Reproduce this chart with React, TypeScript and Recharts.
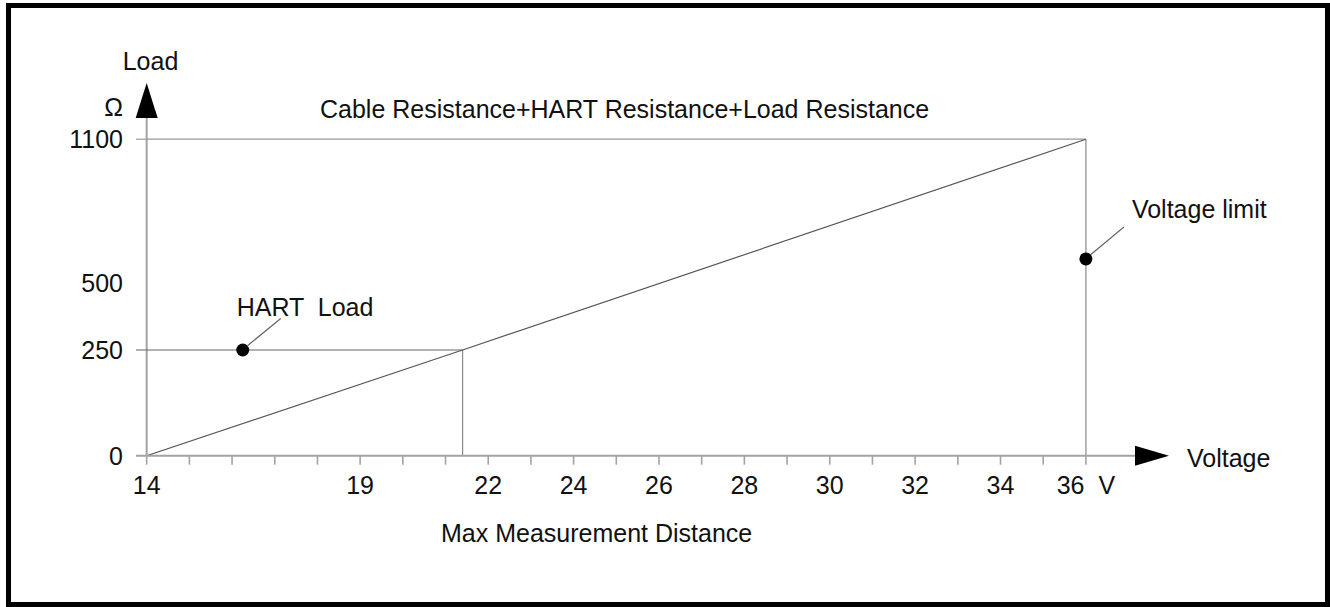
import React from 'react';
import { ComposedChart, Line, XAxis, YAxis, ReferenceLine, ReferenceDot, Customized } from 'recharts';

// ---- data ----
const VOLTAGE_TICKS = [14, 15, 16, 17, 18, 19, 20, 21, 22, 23, 24, 25, 26, 27, 28, 29, 30, 31, 32, 33, 34, 35, 36];
const VOLTAGE_LABELS = [14, 19, 22, 24, 26, 28, 30, 32, 34, 36];
const VOLTAGE_UNIT = 'V';
const LOAD_TICKS = [0, 250, 500, 1100];
const LOAD_LINE = [
  { v: 14, load: 0 },
  { v: 21.4, load: 250 },
  { v: 36, load: 1100 },
];
const HART_LOAD_LINE = [
  { v: 14, load: 250 },
  { v: 21.4, load: 250 },
];
const DISTANCE_LINE = [
  { v: 21.4, load: 0 },
  { v: 21.4, load: 250 },
];
const MAX_LOAD_LINE = [
  { v: 14, load: 1100 },
  { v: 36, load: 1100 },
];
const VOLTAGE_LIMIT_LINE = [
  { v: 36, load: 0 },
  { v: 36, load: 1100 },
];
const ANNOTATIONS = [
  { v: 16.25, load: 250, label: 'HART  Load' },
  { v: 36, load: 600, label: 'Voltage limit' },
];
const TITLE_TOP = 'Cable Resistance+HART Resistance+Load Resistance';
const TITLE_BOTTOM = 'Max Measurement Distance';
const Y_NAME = 'Load';
const Y_UNIT = 'Ω';
const X_NAME = 'Voltage';

// ---- schematic (non-uniform) load scale: ohm -> fraction of axis ----
const LOAD_SCALE: [number, number][] = [
  [0, 0],
  [250, 0.334],
  [500, 0.546],
  [1100, 1],
];
const toFrac = (ohm: number) => {
  for (let i = 1; i < LOAD_SCALE.length; i++) {
    const [o0, f0] = LOAD_SCALE[i - 1];
    const [o1, f1] = LOAD_SCALE[i];
    if (ohm <= o1 || i === LOAD_SCALE.length - 1) {
      return f0 + ((ohm - o0) / (o1 - o0)) * (f1 - f0);
    }
  }
  return 0;
};
const fracToLabel = (f: number) => {
  const t = LOAD_TICKS.find((o) => Math.abs(toFrac(o) - f) < 1e-6);
  return t === undefined ? '' : String(t);
};

// ---- layout / style ----
const W = 1330;
const H = 607;
const X_DOMAIN: [number, number] = [13.75, 37.15];
const Y_DOMAIN: [number, number] = [0, 1.067];
const FONT = '"Liberation Sans", Arial, Helvetica, sans-serif';
const FS = 25;
const TXT = '#111';
const AXIS = '#a3a3a3';

const textStyle: React.CSSProperties = { whiteSpace: 'pre' };

const XTick = (props: any) => {
  const { x, y, payload } = props;
  const v = payload.value;
  if (!VOLTAGE_LABELS.includes(v)) return null;
  const label = v === VOLTAGE_TICKS[VOLTAGE_TICKS.length - 1] ? `${v}  ${VOLTAGE_UNIT}` : String(v);
  return (
    <text x={x} y={y + 8.5} textAnchor="middle" fontFamily={FONT} fontSize={FS} fill={TXT} style={textStyle}>
      {label}
    </text>
  );
};

const YTick = (props: any) => {
  const { x, y, payload } = props;
  return (
    <text x={x} y={y + 9} textAnchor="end" fontFamily={FONT} fontSize={FS} fill={TXT}>
      {fracToLabel(payload.value)}
    </text>
  );
};

const ArrowUp = (props: any) => {
  const { cx, cy } = props;
  return <polygon points={`${cx - 11},${cy} ${cx + 11},${cy} ${cx},${cy - 35}`} fill="#000" />;
};
const ArrowRight = (props: any) => {
  const { cx, cy } = props;
  return <polygon points={`${cx},${cy - 10} ${cx},${cy + 10} ${cx + 34},${cy}`} fill="#000" />;
};

const ANNOT_STYLE = [
  { lx0: 5, ly0: -4.5, lx1: 38, ly1: -31.5, tx: -6, ty: -34 },
  { lx0: 5, ly0: -4.5, lx1: 38, ly1: -32, tx: 46, ty: -41 },
];

const makeAnnot = (i: number) => (props: any) => {
  const { cx, cy } = props;
  const s = ANNOT_STYLE[i];
  return (
    <g>
      <line x1={cx + s.lx0} y1={cy + s.ly0} x2={cx + s.lx1} y2={cy + s.ly1} stroke="#666" strokeWidth={1.2} />
      <circle cx={cx} cy={cy} r={6.5} fill="#000" />
      <text x={cx + s.tx} y={cy + s.ty} fontFamily={FONT} fontSize={FS} fill={TXT} style={textStyle}>
        {ANNOTATIONS[i].label}
      </text>
    </g>
  );
};

const OuterTexts = () => (
  <g fontFamily={FONT} fontSize={FS} fill={TXT}>
    <text x={150.5} y={70} textAnchor="middle">{Y_NAME}</text>
    <text x={123} y={115.5} textAnchor="end">{Y_UNIT}</text>
    <text x={320} y={118.3}>{TITLE_TOP}</text>
    <text x={1187} y={467}>{X_NAME}</text>
    <text x={441} y={541.7}>{TITLE_BOTTOM}</text>
  </g>
);

const lineProps = {
  type: 'linear' as const,
  dot: false,
  activeDot: false,
  isAnimationActive: false,
  dataKey: (d: any) => toFrac(d.load),
};

export default function App() {
  return (
    <div style={{ position: 'absolute', left: 0, top: 0, width: W, height: H, background: '#fff' }}>
      <ComposedChart
        width={W}
        height={H}
        margin={{ top: 118, right: 195, bottom: 91.3, left: 76 }}
      >
        <XAxis
          type="number"
          dataKey="v"
          domain={X_DOMAIN}
          allowDataOverflow
          ticks={VOLTAGE_TICKS}
          interval={0}
          height={60}
          tickSize={9}
          tickMargin={21}
          tickLine={{ stroke: AXIS, strokeWidth: 1.6 }}
          axisLine={{ stroke: AXIS, strokeWidth: 2 }}
          tick={<XTick />}
        />
        <YAxis
          type="number"
          domain={Y_DOMAIN}
          allowDataOverflow
          ticks={LOAD_TICKS.map(toFrac)}
          interval={0}
          width={60}
          tickSize={0}
          tickMargin={13}
          tickLine={false}
          axisLine={false}
          tick={<YTick />}
        />
        <ReferenceLine x={14} stroke={AXIS} strokeWidth={2} ifOverflow="visible" />
        <ReferenceLine
          segment={[{ x: X_DOMAIN[0], y: toFrac(250) }, { x: 14, y: toFrac(250) }]}
          stroke="#777"
          strokeWidth={1.2}
          ifOverflow="visible"
        />
        <ReferenceLine
          segment={[{ x: X_DOMAIN[0], y: toFrac(1100) }, { x: 14, y: toFrac(1100) }]}
          stroke="#999"
          strokeWidth={1.2}
          ifOverflow="visible"
        />
        <Line {...lineProps} data={MAX_LOAD_LINE} stroke="#9a9a9a" strokeWidth={1.3} />
        <Line {...lineProps} data={VOLTAGE_LIMIT_LINE} stroke="#a0a0a0" strokeWidth={1.5} />
        <Line {...lineProps} data={DISTANCE_LINE} stroke="#8a8a8a" strokeWidth={1.2} />
        <Line {...lineProps} data={HART_LOAD_LINE} stroke="#666" strokeWidth={1.2} />
        <Line {...lineProps} data={LOAD_LINE} stroke="#555" strokeWidth={1.2} />
        <ReferenceDot x={14} y={Y_DOMAIN[1]} ifOverflow="visible" shape={ArrowUp} />
        <ReferenceDot x={X_DOMAIN[1]} y={0} ifOverflow="visible" shape={ArrowRight} />
        {ANNOTATIONS.map((a, i) => (
          <ReferenceDot key={a.label} x={a.v} y={toFrac(a.load)} ifOverflow="visible" shape={makeAnnot(i)} />
        ))}
        <Customized component={OuterTexts} />
      </ComposedChart>
      <div
        style={{
          position: 'absolute',
          left: 6,
          top: 3,
          width: 1324,
          height: 604,
          boxSizing: 'border-box',
          border: '5px solid #000',
          pointerEvents: 'none',
        }}
      />
    </div>
  );
}
